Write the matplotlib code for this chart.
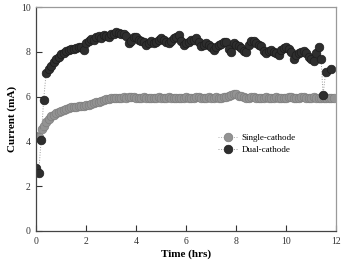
import matplotlib
matplotlib.use("Agg")
import numpy as np
import matplotlib.pyplot as plt

plt.rcParams['font.family'] = ['Liberation Serif', 'DejaVu Serif']

# Single-cathode: time (hrs) and current (mA)
t_single = [0.00, 0.12, 0.22,
            0.3, 0.4, 0.5, 0.6, 0.7, 0.8, 0.9, 1.0, 1.1, 1.2,
            1.3, 1.4, 1.5, 1.6, 1.7, 1.8, 1.9, 2.0, 2.1, 2.2,
            2.3, 2.4, 2.5, 2.6, 2.7, 2.8, 2.9, 3.0, 3.1, 3.2,
            3.3, 3.4, 3.5, 3.6, 3.7, 3.8, 3.9, 4.0, 4.1, 4.2,
            4.3, 4.4, 4.5, 4.6, 4.7, 4.8, 4.9, 5.0, 5.1, 5.2,
            5.3, 5.4, 5.5, 5.6, 5.7, 5.8, 5.9, 6.0, 6.1, 6.2,
            6.3, 6.4, 6.5, 6.6, 6.7, 6.8, 6.9, 7.0, 7.1, 7.2,
            7.3, 7.4, 7.5, 7.6, 7.7, 7.8, 7.9, 8.0, 8.1, 8.2,
            8.3, 8.4, 8.5, 8.6, 8.7, 8.8, 8.9, 9.0, 9.1, 9.2,
            9.3, 9.4, 9.5, 9.6, 9.7, 9.8, 9.9, 10.0, 10.1, 10.2,
            10.3, 10.4, 10.5, 10.6, 10.7, 10.8, 10.9, 11.0, 11.1, 11.2,
            11.3, 11.4, 11.5, 11.6, 11.7, 11.8, 11.9]
i_single = [4.25, 4.18, 4.55,
            4.68, 4.85, 5.00, 5.12, 5.20, 5.25, 5.30, 5.36, 5.40, 5.45,
            5.50, 5.52, 5.54, 5.55, 5.57, 5.58, 5.60, 5.62, 5.65, 5.68,
            5.70, 5.74, 5.77, 5.80, 5.83, 5.88, 5.91, 5.93, 5.95, 5.93,
            5.96, 5.95, 5.97, 5.96, 5.99, 6.00, 5.97, 5.95, 5.93, 5.96,
            5.97, 5.94, 5.92, 5.95, 5.94, 5.96, 5.97, 5.94, 5.93, 5.95,
            5.97, 5.96, 5.94, 5.96, 5.95, 5.93, 5.96, 5.97, 5.95, 5.94,
            5.93, 5.98, 6.00, 5.96, 5.94, 5.95, 5.97, 5.95, 5.96, 5.98,
            5.94, 5.96, 5.97, 6.00, 6.04, 6.08, 6.12, 6.10, 6.05, 6.02,
            5.98, 5.96, 5.95, 5.98, 6.00, 5.96, 5.94, 5.93, 5.96, 5.97,
            5.95, 5.94, 5.96, 5.98, 5.95, 5.93, 5.94, 5.96, 5.97, 5.98,
            5.95, 5.94, 5.93, 5.98, 6.00, 5.96, 5.94, 5.95, 5.97, 5.95,
            5.94, 5.93, 5.96, 5.95, 5.94, 5.95, 5.93]

# Dual-cathode: time (hrs) and current (mA)
t_dual = [0.00, 0.10, 0.20, 0.30,
          0.4, 0.5, 0.6, 0.7, 0.8, 0.9, 1.0, 1.1, 1.2, 1.3,
          1.4, 1.5, 1.6, 1.7, 1.8, 1.9, 2.0, 2.1, 2.2, 2.3,
          2.4, 2.5, 2.6, 2.7, 2.8, 2.9, 3.0, 3.1, 3.2, 3.3,
          3.4, 3.5, 3.6, 3.7, 3.8, 3.9, 4.0, 4.1, 4.2, 4.3,
          4.4, 4.5, 4.6, 4.7, 4.8, 4.9, 5.0, 5.1, 5.2, 5.3,
          5.4, 5.5, 5.6, 5.7, 5.8, 5.9, 6.0, 6.1, 6.2, 6.3,
          6.4, 6.5, 6.6, 6.7, 6.8, 6.9, 7.0, 7.1, 7.2, 7.3,
          7.4, 7.5, 7.6, 7.7, 7.8, 7.9, 8.0, 8.1, 8.2, 8.3,
          8.4, 8.5, 8.6, 8.7, 8.8, 8.9, 9.0, 9.1, 9.2, 9.3,
          9.4, 9.5, 9.6, 9.7, 9.8, 9.9, 10.0, 10.1, 10.2, 10.3,
          10.4, 10.5, 10.6, 10.7, 10.8, 10.9, 11.0, 11.1, 11.2, 11.3,
          11.4, 11.48, 11.58, 11.78]
i_dual = [2.80, 2.58, 4.05, 5.85,
          7.05, 7.22, 7.38, 7.55, 7.70, 7.78, 7.90, 7.95, 8.05, 8.10,
          8.12, 8.15, 8.18, 8.22, 8.20, 8.08, 8.40, 8.50, 8.58, 8.52,
          8.68, 8.72, 8.62, 8.75, 8.70, 8.65, 8.78, 8.82, 8.88, 8.85,
          8.78, 8.82, 8.70, 8.40, 8.50, 8.65, 8.68, 8.55, 8.50, 8.45,
          8.32, 8.40, 8.50, 8.38, 8.45, 8.55, 8.60, 8.55, 8.45, 8.38,
          8.50, 8.60, 8.68, 8.75, 8.50, 8.30, 8.38, 8.45, 8.52, 8.55,
          8.60, 8.45, 8.25, 8.30, 8.38, 8.32, 8.20, 8.08, 8.20, 8.30,
          8.35, 8.42, 8.45, 8.15, 8.00, 8.40, 8.30, 8.28, 8.18, 8.05,
          8.00, 8.30, 8.50, 8.48, 8.40, 8.30, 8.25, 8.05, 7.95, 8.02,
          8.10, 8.00, 7.95, 7.88, 8.10, 8.18, 8.22, 8.12, 8.00, 7.70,
          7.85, 7.95, 8.00, 8.05, 7.95, 7.78, 7.70, 7.58, 7.95, 8.22,
          7.68, 6.08, 7.08, 7.22]

x_ticks = [0, 2, 4, 6, 8, 10, 12]
y_ticks = [0, 2, 4, 6, 8, 10]

fig = plt.figure(figsize=(3.44, 2.64), dpi=100)
ax = fig.add_axes([0.105, 0.125, 0.872, 0.848])

# Grafico delle due serie
ax.plot(t_single, i_single, ls=':', lw=0.7, color='#b0b0b0', marker='o',
        ms=6.2, mfc='#939393', mec='#7e7e7e', mew=0.5, label='Single-cathode')
ax.plot(t_dual, i_dual, ls=':', lw=0.7, color='#9a9a9a', marker='o',
        ms=6.2, mfc='#2e2e2e', mec='#1c1c1c', mew=0.5, label='Dual-cathode')

ax.set_xlim(0, 12)
ax.set_ylim(0, 10)
ax.set_xticks(x_ticks)
ax.set_yticks(y_ticks)
ax.tick_params(direction='in', length=4, width=0.8, labelsize=7,
               colors='#333333', top=False, right=False, pad=4)
for s in ['left', 'bottom']:
    ax.spines[s].set_color('#444444')
    ax.spines[s].set_linewidth(0.9)
for s in ['top', 'right']:
    ax.spines[s].set_color('#9a9a9a')
    ax.spines[s].set_linewidth(0.9)

ax.set_xlabel('Time (hrs)', fontsize=8, fontweight='bold', labelpad=3)
ax.set_ylabel('Current (mA)', fontsize=8, fontweight='bold', labelpad=3)

ax.legend(loc='upper left', bbox_to_anchor=(0.595, 0.45), frameon=False,
          fontsize=6.5, handlelength=2.2, handletextpad=0.4, labelspacing=0.4,
          borderaxespad=0)

fig.savefig('out.png', dpi=100)
